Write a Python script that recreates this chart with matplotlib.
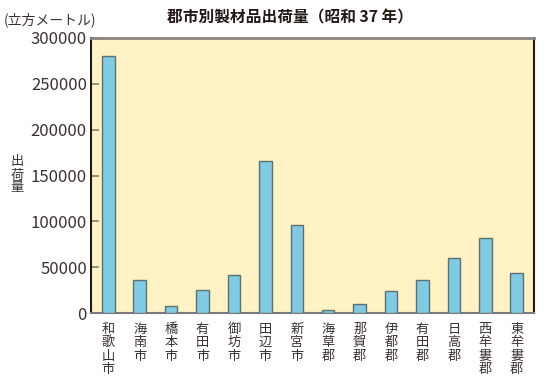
import matplotlib
matplotlib.use("Agg")
import matplotlib.pyplot as plt

plt.rcParams['font.family'] = ['Noto Sans CJK JP', 'DejaVu Sans']

categories = ["和歌山市", "海南市", "橋本市", "有田市", "御坊市", "田辺市", "新宮市",
              "海草郡", "那賀郡", "伊都郡", "有田郡", "日高郡", "西牟婁郡", "東牟婁郡"]
values = [280000, 36000, 8000, 25000, 41000, 165500, 96000,
          3000, 10000, 24000, 36000, 60000, 82000, 44000]
yticks = [0, 50000, 100000, 150000, 200000, 250000, 300000]

title = "郡市別製材品出荷量（昭和 37 年）"
unit_label = "(立方メートル)"
ylabel = "出荷量"

fig = plt.figure(figsize=(5.47, 3.80), dpi=100)
ax = fig.add_axes([91/547, 1-313/380, (534-91)/547, (313-38)/380])
ax.set_facecolor("#FFF2C4")

x = list(range(len(categories)))
ax.bar(x, values, width=0.4, color="#7ECBE3", edgecolor="#5F7070", linewidth=1.0, zorder=3)

ax.set_xlim(-0.55, len(categories) - 0.45)
ax.set_ylim(0, 300000)
ax.set_yticks(yticks)
ax.set_yticklabels([str(v) for v in yticks], fontsize=12, color="#3a3230")
ax.tick_params(axis='y', direction='in', length=6, width=1.2, color="#8A8175", pad=3)
ax.set_xticks(x)
ax.set_xticklabels(["\n".join(c) for c in categories], fontsize=9.5, color="#3a3230",
                   linespacing=1.05, va='top')
ax.tick_params(axis='x', length=0, pad=7)

ax.spines['top'].set_color("#8A8580")
ax.spines['top'].set_linewidth(2.0)
ax.spines['right'].set_color("#231815")
ax.spines['right'].set_linewidth(1.5)
ax.spines['left'].set_color("#231815")
ax.spines['left'].set_linewidth(1.5)
ax.spines['bottom'].set_color("#7A7A7A")
ax.spines['bottom'].set_linewidth(1.5)

fig.text(290/547, 1-17/380, title, ha='center', va='center', fontsize=11.3,
         fontweight='bold', color="#231815")
fig.text(4/547, 1-20/380, unit_label, ha='left', va='center', fontsize=10, color="#3a3230")
fig.text(17/547, 1-175/380, "\n".join(ylabel), ha='center', va='center', fontsize=9.5,
         color="#3a3230", linespacing=1.0)

fig.savefig("out.png", dpi=100)
